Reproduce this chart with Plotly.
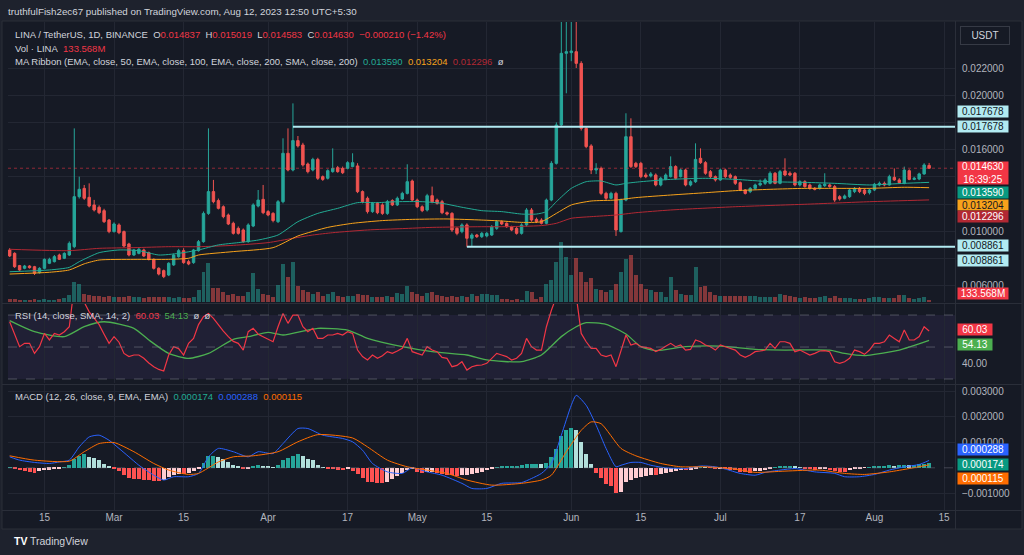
import plotly.graph_objects as go
import pandas as pd

# ---------------- DATA ----------------
START_DATE = "2023-02-08"

opens = [0.00862,0.00837,0.00747,0.00727,0.00744,0.00739,0.00695,0.00727,0.00764,0.00776,
0.00825,0.00801,0.00825,0.00886,0.01254,0.01315,0.01249,0.01193,0.01176,0.01151,
0.01082,0.00997,0.01046,0.00997,0.00906,0.00825,0.00837,0.00862,0.00842,0.00793,
0.00727,0.00710,0.00678,0.00752,0.00813,0.00857,0.00776,0.00769,0.00857,0.00923,
0.01131,0.01291,0.01225,0.01180,0.01119,0.01058,0.01021,0.01009,0.00923,0.01038,
0.01185,0.01234,0.01144,0.01131,0.01070,0.01217,0.01573,0.01450,0.01666,0.01634,
0.01494,0.01450,0.01528,0.01401,0.01389,0.01438,0.01467,0.01462,0.01462,0.01475,
0.01480,0.01291,0.01242,0.01144,0.01205,0.01193,0.01131,0.01225,0.01193,0.01237,
0.01278,0.01369,0.01229,0.01180,0.01156,0.01261,0.01229,0.01217,0.01136,0.01131,
0.01021,0.00997,0.01046,0.00948,0.00972,0.00960,0.00965,0.00972,0.01021,0.01070,
0.01058,0.01033,0.01021,0.00984,0.01046,0.01156,0.01087,0.01082,0.01058,0.01229,
0.01499,0.01781,0.02308,0.02313,0.02320,0.02234,0.01756,0.01627,0.01450,0.01462,
0.01278,0.01242,0.01278,0.00997,0.01229,0.01695,0.01499,0.01499,0.01413,0.01406,
0.01413,0.01340,0.01381,0.01401,0.01475,0.01401,0.01450,0.01340,0.01364,0.01536,
0.01504,0.01438,0.01401,0.01377,0.01450,0.01413,0.01401,0.01357,0.01303,0.01291,
0.01315,0.01340,0.01352,0.01352,0.01426,0.01352,0.01443,0.01426,0.01426,0.01340,
0.01364,0.01340,0.01315,0.01315,0.01335,0.01340,0.01328,0.01254,0.01242,0.01254,
0.01291,0.01315,0.01303,0.01283,0.01303,0.01340,0.01352,0.01340,0.01396,0.01377,
0.01352,0.01445,0.01381,0.01384,0.01421,0.014837]

highs = [0.00875,0.00845,0.00752,0.00752,0.00750,0.00745,0.00735,0.00800,0.00805,0.00825,
0.00835,0.00845,0.00925,0.01756,0.01401,0.01340,0.01352,0.01230,0.01190,0.01165,
0.01090,0.01065,0.01058,0.01005,0.00915,0.00870,0.00880,0.00872,0.00850,0.00800,
0.00735,0.00718,0.00772,0.00835,0.00870,0.00875,0.00790,0.00870,0.00935,0.01145,
0.01756,0.01377,0.01240,0.01190,0.01130,0.01070,0.01035,0.01020,0.01058,0.01205,
0.01303,0.01340,0.01155,0.01140,0.01229,0.01683,0.01756,0.01940,0.01700,0.01650,
0.01505,0.01540,0.01540,0.01410,0.01455,0.01609,0.01480,0.01475,0.01515,0.01573,
0.01500,0.01300,0.01255,0.01215,0.01215,0.01205,0.01230,0.01235,0.01255,0.01290,
0.01492,0.01380,0.01240,0.01190,0.01275,0.01328,0.01240,0.01230,0.01145,0.01140,
0.01030,0.01058,0.01058,0.00985,0.00980,0.00995,0.00995,0.01045,0.01082,0.01080,
0.01065,0.01040,0.01030,0.01058,0.01170,0.01170,0.01100,0.01095,0.01240,0.01515,
0.01800,0.02541,0.02541,0.02541,0.02541,0.02250,0.01770,0.01640,0.01500,0.01475,
0.01290,0.01290,0.01290,0.01240,0.01867,0.01830,0.01510,0.01510,0.01430,0.01435,
0.01425,0.01400,0.01425,0.01550,0.01485,0.01460,0.01460,0.01375,0.01646,0.01609,
0.01515,0.01450,0.01410,0.01460,0.01460,0.01425,0.01410,0.01365,0.01310,0.01325,
0.01350,0.01380,0.01390,0.01440,0.01435,0.01450,0.01536,0.01440,0.01435,0.01375,
0.01375,0.01350,0.01325,0.01350,0.01426,0.01350,0.01340,0.01265,0.01270,0.01315,
0.01325,0.01325,0.01310,0.01315,0.01355,0.01365,0.01365,0.01415,0.01462,0.01390,
0.01475,0.01455,0.01400,0.01430,0.01500,0.015019]

lows = [0.00810,0.00730,0.00708,0.00720,0.00725,0.00678,0.00688,0.00720,0.00758,0.00770,
0.00788,0.00795,0.00818,0.00875,0.01240,0.01230,0.01175,0.01145,0.01125,0.01060,
0.00985,0.00990,0.00978,0.00880,0.00815,0.00818,0.00830,0.00810,0.00785,0.00718,
0.00675,0.00655,0.00670,0.00745,0.00805,0.00760,0.00750,0.00760,0.00850,0.00915,
0.01120,0.01205,0.01160,0.01095,0.01045,0.00975,0.00975,0.00915,0.00915,0.01030,
0.01175,0.01125,0.01110,0.01065,0.01060,0.01205,0.01440,0.01440,0.01615,0.01475,
0.01425,0.01440,0.01377,0.01370,0.01380,0.01430,0.01430,0.01420,0.01455,0.01470,
0.01280,0.01205,0.01130,0.01135,0.01125,0.01120,0.01120,0.01185,0.01185,0.01230,
0.01270,0.01220,0.01170,0.01140,0.01145,0.01205,0.01195,0.01125,0.01115,0.00995,
0.00970,0.00985,0.00886,0.00886,0.00950,0.00950,0.00955,0.00965,0.01010,0.01045,
0.01025,0.01000,0.00975,0.00975,0.01035,0.01070,0.01060,0.01050,0.01050,0.01220,
0.01490,0.01770,0.02014,0.02250,0.02200,0.01740,0.01610,0.01420,0.01420,0.01265,
0.01230,0.01235,0.00965,0.00990,0.01220,0.01465,0.01465,0.01390,0.01390,0.01395,
0.01330,0.01330,0.01375,0.01395,0.01380,0.01395,0.01330,0.01330,0.01355,0.01495,
0.01415,0.01390,0.01365,0.01370,0.01390,0.01385,0.01340,0.01295,0.01270,0.01280,
0.01305,0.01330,0.01340,0.01345,0.01345,0.01345,0.01405,0.01405,0.01330,0.01330,
0.01320,0.01305,0.01300,0.01305,0.01325,0.01320,0.01215,0.01225,0.01235,0.01245,
0.01280,0.01280,0.01265,0.01270,0.01295,0.01330,0.01330,0.01335,0.01370,0.01350,
0.01345,0.01375,0.01375,0.01375,0.01415,0.014583]

closes = [0.00818,0.00739,0.00715,0.00744,0.00732,0.00690,0.00727,0.00793,0.00793,0.00813,
0.00793,0.00837,0.00911,0.01254,0.01308,0.01242,0.01185,0.01156,0.01136,0.01070,
0.00997,0.01053,0.00989,0.00891,0.00825,0.00862,0.00867,0.00818,0.00793,0.00727,
0.00685,0.00666,0.00764,0.00825,0.00857,0.00769,0.00759,0.00862,0.00923,0.01131,
0.01291,0.01217,0.01168,0.01107,0.01053,0.00984,0.00984,0.00923,0.01046,0.01193,
0.01229,0.01136,0.01119,0.01078,0.01217,0.01573,0.01450,0.01666,0.01627,0.01487,
0.01438,0.01528,0.01389,0.01381,0.01445,0.01462,0.01438,0.01430,0.01504,0.01504,
0.01291,0.01217,0.01144,0.01205,0.01136,0.01131,0.01217,0.01193,0.01242,0.01278,
0.01364,0.01229,0.01180,0.01151,0.01261,0.01217,0.01205,0.01136,0.01126,0.01009,
0.00984,0.01046,0.00948,0.00972,0.00960,0.00984,0.00984,0.01033,0.01070,0.01053,
0.01033,0.01009,0.00984,0.01046,0.01156,0.01082,0.01070,0.01058,0.01229,0.01499,
0.01781,0.02308,0.02320,0.02325,0.02234,0.01756,0.01622,0.01450,0.01462,0.01278,
0.01242,0.01278,0.01009,0.01229,0.01695,0.01475,0.01475,0.01401,0.01401,0.01421,
0.01340,0.01389,0.01413,0.01475,0.01389,0.01450,0.01340,0.01364,0.01528,0.01504,
0.01426,0.01401,0.01377,0.01450,0.01401,0.01396,0.01352,0.01303,0.01278,0.01315,
0.01340,0.01352,0.01377,0.01426,0.01352,0.01438,0.01413,0.01413,0.01340,0.01364,
0.01328,0.01315,0.01308,0.01340,0.01345,0.01328,0.01229,0.01237,0.01259,0.01303,
0.01315,0.01291,0.01278,0.01303,0.01345,0.01352,0.01340,0.01401,0.01377,0.01357,
0.01450,0.01381,0.01389,0.01421,0.01487,0.014630]

volumes_m = [180,170,150,140,160,190,150,170,160,150,180,
260,455,1300,1170,520,455,390,390,325,390,
325,325,325,390,325,325,260,325,325,325,325,
325,260,325,260,260,325,
780,1950,2535,910,910,650,455,520,390,390,
650,1885,845,520,455,325,1105,2470,1625,2600,
1040,780,650,520,650,390,520,650,390,325,
390,390,520,455,455,325,325,325,390,325,
585,520,1040,650,520,390,585,650,455,390,
325,390,325,390,325,520,390,
520,520,455,455,195,195,130,195,130,715,650,195,325,
1170,1430,2600,3900,2925,1755,2860,1950,1300,1560,
845,780,650,780,1170,1950,2795,3055,1755,1170,
845,780,650,650,325,1625,780,520,455,455,
2275,975,1040,650,455,
390,390,390,390,390,390,390,390,
325,325,325,325,
520,455,390,
325,260,325,260,260,325,390,260,390,260,260,260,195,195,195,260,325,325,260,260,260,455,455,260,195,260,325,133.568]

# MA Ribbon (sparse vertices)
ema50_idx = [0,8,12,14,18,22,26,30,34,38,42,46,50,54,58,62,66,70,74,78,83,87,91,95,99,103,106,108,110,113,
             116,119,122,124,127,133,140,146,153,160,166,173,180,185]
ema50 = [0.00702,0.00715,0.00734,0.00776,0.00842,0.00862,0.00857,0.00825,0.00837,0.00862,
         0.00899,0.00916,0.00935,0.00972,0.01070,0.01131,0.01168,0.01210,0.01210,0.01217,
         0.01217,0.01205,0.01176,0.01151,0.01144,0.01126,0.01126,0.01144,0.01217,0.01315,
         0.01364,0.01369,0.01340,0.01352,0.01364,0.01381,0.01389,0.01381,0.01364,0.01359,
         0.01352,0.01340,0.01352,0.01359]
ema100_idx = [0,8,12,15,18,25,32,36,38,45,53,58,64,69,75,81,88,95,99,103,107,110,113,117,122,126,133,140,146,153,
              160,166,173,180,185]
ema100 = [0.00685,0.00698,0.00715,0.00760,0.00788,0.00793,0.00793,0.00801,0.00825,0.00850,
          0.00879,0.00965,0.01028,0.01058,0.01078,0.01087,0.01090,0.01082,0.01075,0.01065,
          0.01070,0.01131,0.01193,0.01222,0.01229,0.01247,0.01266,0.01283,0.01298,0.01308,
          0.01315,0.01315,0.01315,0.01323,0.01320]
ema200_idx = [0,12,18,25,32,38,45,52,57,61,65,72,79,85,95,99,107,110,113,117,122,126,133,146,160,173,185]
ema200 = [0.00867,0.00857,0.00874,0.00879,0.00886,0.00886,0.00896,0.00916,0.00948,0.00972,
          0.00989,0.01009,0.01019,0.01028,0.01033,0.01033,0.01041,0.01058,0.01095,0.01107,
          0.01119,0.01136,0.01156,0.01180,0.01198,0.01217,0.01230]

# RSI (daily) and its MA (sparse)
rsi = [65.8,58.5,50.2,52.3,52.3,46.0,50.2,58.5,54.4,58.5,
       57.5,59.6,62.7,88,84,78,72,68,64,58,
       52.3,56.5,53,46,44,45,45,43,40,37.7,
       36,35,45,50.2,49,45,52.3,55.4,64,68.9,
       71,67.9,63.8,60,56.5,53.5,52.3,48.1,59.6,61.7,
       58,56.5,55,53.3,62.7,71,64.8,70,70,62.7,
       59.6,61.7,55.4,55.4,57.5,57.5,58.5,57.5,59.6,58.5,
       48.1,44,41.9,45,42.9,44.5,47.1,46,47.5,49.2,
       55.4,47.1,46,45,50.2,48.1,47.1,43.5,42.9,37.7,
       38.5,40.8,35.6,37.7,38.5,38.75,39.8,43,46,45,
       44,41.9,43,46,55.4,50.2,48.1,48.1,62.7,73,
       82,90,90,89,82,58.5,53.3,49.2,49.2,45,
       44,45,37.7,47,57.5,51.25,52.3,50.2,49.7,49.2,
       47.1,48.5,50.5,52.3,50.2,51.25,48.1,48.5,54.4,53.3,
       51.25,50.2,48.1,51.25,50.2,49,48.1,45,43.5,45,
       47.1,47.5,48.1,52.3,49.2,53.3,53.3,52.3,47.1,48.1,
       46.5,45,46,47.5,47.7,47.1,40.8,39.8,40.8,42.9,
       48.1,47.1,45.4,48.1,52.3,52.3,53.3,57.5,55.4,53.3,
       60.6,54.4,54.4,56.5,62.7,60.03]
rsi_ma_idx = [0,5,11,15,19,25,28,32,36,40,45,48,52,55,60,62,68,72,79,85,92,96,103,107,111,114,116,120,124,127,
              130,136,143,150,156,165,168,172,174,179,185]
rsi_ma = [66.5,59.6,56.5,62.7,65.8,61.7,54.4,46,42.9,46,
          54.8,56.5,59.2,57.5,60.6,61.7,60.6,55.4,50.2,47.1,
          45,41.9,40.8,45,56.5,62.7,65.2,64.2,58.1,50.2,
          47.7,50.2,50.6,48.5,48.1,48.1,46,44.6,45.4,48.1,54.13]

# MACD, in millionths of USDT
macd_idx = [0,2,5,8,10,12,14,16,18,20,22,24,26,29,31,33,36,38,40,42,45,48,50,53,55,58,60,63,67,69,
            71,73,76,79,81,84,87,91,93,96,99,103,105,107,109,111,113,114,116,118,120,122,123,125,127,129,132,136,139,142,
            144,147,150,152,155,158,162,166,168,171,174,177,180,183,185]
macd_u = [430,300,210,170,230,300,820,1210,1280,1080,760,430,100,-290,-480,-350,-350,-220,430,760,
          630,430,630,560,950,1540,1540,1280,1150,1020,690,170,-160,-220,0,-160,-290,-610,-810,-810,
          -610,-580,-420,-220,170,1280,2450,2840,2450,1670,760,40,100,210,210,100,0,-30,70,40,
          -50,-220,-290,-180,-90,-30,-160,-220,-350,-350,-260,-90,40,130,288]
signal_idx = [0,5,12,15,18,21,25,29,32,36,38,42,45,49,54,58,62,69,72,76,80,84,88,92,97,103,107,109,112,115,
              117,119,123,126,131,135,140,146,150,156,163,168,172,177,181,185]
signal_u = [470,300,260,630,950,990,630,170,-90,-260,-220,230,430,470,630,1020,1300,1170,820,300,
            40,-90,-220,-480,-680,-610,-480,-290,630,1470,1800,1730,760,470,170,40,40,-50,-180,-130,
            -90,-220,-260,-160,-30,115]
hist_u = [20,-65,-104,-130,-170,-196,-143,-104,-78,-52,-26,
          5,91,326,456,522,443,378,287,157,52,
          -65,-143,-300,-404,-430,-456,-469,-496,-522,-535,
          -496,-365,-274,-235,-240,-209,-143,-39,196,456,
          482,417,352,222,117,39,-39,-13,65,91,
          65,52,26,91,287,378,456,548,456,352,
          287,117,26,-39,-65,-70,-104,-65,-143,-235,
          -404,-561,-565,-587,-590,-561,-456,-326,-196,-104,
          -39,-180,-200,-170,-160,-196,-235,-274,-300,-320,
          -300,-274,-235,-209,-170,-104,-39,26,52,52,52,52,
          104,143,143,143,130,170,430,756,1252,1474,
          1565,1474,1017,522,130,-222,-417,-652,-717,-1004,
          -965,-548,-482,-417,-352,-313,-287,-300,-261,-222,
          -183,-130,-91,-104,-78,-26,26,10,-5,-39,
          -35,-52,-78,-104,-156,-183,-190,-130,-117,-104,
          -26,13,39,65,70,39,13,-26,-65,-78,
          -65,-52,-91,-130,-156,-160,-104,-65,-26,-5,
          26,39,52,65,91,78,91,117,104,117,130,143,174]

# horizontal levels drawn by the author
level_prices = [0.017678, 0.008861]
level_starts = ["2023-04-06", "2023-05-11"]
last_price = 0.014630

# axis ticks (labels hidden behind the price tags are left blank)
x_tick_dates = ["2023-02-15","2023-03-01","2023-03-15","2023-04-01","2023-04-17","2023-05-01","2023-05-15",
                "2023-06-01","2023-06-15","2023-07-01","2023-07-17","2023-08-01","2023-08-15"]
x_tick_text = ["15","Mar","15","Apr","17","May","15","Jun","15","Jul","17","Aug","15"]
price_ticks = [0.006,0.008,0.010,0.012,0.014,0.016,0.018,0.020,0.022]
price_tick_text = ["0.006000","","0.010000","","","0.016000","","0.020000","0.022000"]
rsi_ticks = [40]
rsi_tick_text = ["40.00"]
macd_ticks = [-0.001,0.001,0.002,0.003]
macd_tick_text = ["\u22120.001000","0.001000","0.002000","0.003000"]

# ---------------- FIGURE ----------------
dates = pd.date_range(START_DATE, periods=len(closes), freq="D")
def at(idx):
    return [dates[i] for i in idx]

W, H = 1024, 555
ML, MR, MT, MB = 8, 69, 22, 45
PW, PH = W - ML - MR, H - MT - MB
def px(x):
    return (x - ML) / PW
def py(y):
    return (H - MB - y) / PH

BG = "#161a25"
OUTER = "#1e222d"
GRID = "#232733"
SEP = "#2a2e39"
TXT = "#b2b5be"
LEG = "#d1d4dc"
UP, DN = "#26a69a", "#ef5350"
FONT = "Liberation Sans, Arial, sans-serif"

fig = go.Figure()

vol_colors = ["rgba(38,166,154,0.5)" if c >= o else "rgba(239,83,80,0.5)" for o, c in zip(opens, closes)]
fig.add_trace(go.Bar(x=dates, y=volumes_m, marker=dict(color=vol_colors, line=dict(width=0)),
                     width=86400000 * 0.8, xaxis="x", yaxis="y", hoverinfo="skip"))

fig.add_trace(go.Candlestick(x=dates, open=opens, high=highs, low=lows, close=closes,
                             xaxis="x", yaxis="y2", hoverinfo="skip",
                             increasing=dict(line=dict(color=UP, width=1), fillcolor=UP),
                             decreasing=dict(line=dict(color=DN, width=1), fillcolor=DN)))
for idx, vals, col in [(ema200_idx, ema200, "#b22833"), (ema100_idx, ema100, "#f7a21b"), (ema50_idx, ema50, "#22ab94")]:
    fig.add_trace(go.Scatter(x=at(idx), y=vals, mode="lines", line=dict(color=col, width=1, shape="spline", smoothing=0.6),
                             xaxis="x", yaxis="y2", hoverinfo="skip"))

fig.add_trace(go.Scatter(x=at(rsi_ma_idx), y=rsi_ma, mode="lines", line=dict(color="#4caf50", width=1.3, shape="spline", smoothing=0.6),
                         xaxis="x", yaxis="y3", hoverinfo="skip"))
fig.add_trace(go.Scatter(x=dates, y=rsi, mode="lines", line=dict(color="#f23645", width=1.2),
                         xaxis="x", yaxis="y3", hoverinfo="skip"))

hist = [v * 1e-6 for v in hist_u]
hcols = []
prev = 0.0
for h in hist:
    if h >= 0:
        hcols.append("#26a69a" if h >= prev else "#b2dfdb")
    else:
        hcols.append("#ff5252" if h < prev else "#ffcdd2")
    prev = h
fig.add_trace(go.Bar(x=dates, y=hist, marker=dict(color=hcols, line=dict(width=0)), width=86400000 * 0.8,
                     xaxis="x", yaxis="y4", hoverinfo="skip"))
fig.add_trace(go.Scatter(x=at(macd_idx), y=[v * 1e-6 for v in macd_u], mode="lines",
                         line=dict(color="#2962ff", width=1, shape="spline", smoothing=0.6), xaxis="x", yaxis="y4", hoverinfo="skip"))
fig.add_trace(go.Scatter(x=at(signal_idx), y=[v * 1e-6 for v in signal_u], mode="lines",
                         line=dict(color="#ff6d00", width=1, shape="spline", smoothing=0.6), xaxis="x", yaxis="y4", hoverinfo="skip"))

x0, x1 = "2023-02-07 16:00", "2023-08-17 05:00"

shapes = []
shapes.append(dict(type="rect", xref="paper", yref="paper", x0=px(2), x1=px(1022), y0=py(21), y1=py(529),
                   fillcolor=BG, line=dict(color=SEP, width=1), layer="below"))
shapes.append(dict(type="rect", xref="paper", yref="y3", x0=0, x1=1, y0=30, y1=70,
                   fillcolor="rgba(126,87,194,0.10)", line=dict(width=0), layer="below"))
for lv in [70, 50, 30]:
    shapes.append(dict(type="line", xref="paper", yref="y3", x0=0, x1=1, y0=lv, y1=lv,
                       line=dict(color="rgba(120,123,134,0.55)", width=1, dash="dash")))
shapes.append(dict(type="line", xref="paper", yref="y4", x0=0, x1=1, y0=0, y1=0,
                   line=dict(color="rgba(120,123,134,0.45)", width=1, dash="dash")))
shapes.append(dict(type="line", xref="paper", yref="y2", x0=0, x1=1, y0=last_price, y1=last_price,
                   line=dict(color="rgba(242,54,69,0.55)", width=1, dash="dot")))
for p, s in zip(level_prices, level_starts):
    shapes.append(dict(type="line", xref="x", yref="y2", x0=s, x1=x1, y0=p, y1=p,
                       line=dict(color="#b2ebf2", width=2)))
for yy in [303.5, 384.5, 510.5]:
    shapes.append(dict(type="line", xref="paper", yref="paper", x0=px(2), x1=px(1022), y0=py(yy), y1=py(yy),
                       line=dict(color=SEP, width=1)))
shapes.append(dict(type="line", xref="paper", yref="paper", x0=px(955.5), x1=px(955.5), y0=py(21), y1=py(529),
                   line=dict(color=SEP, width=1)))

ann = []
def text(x, y, t, size=9.5, color=LEG):
    ann.append(dict(xref="paper", yref="paper", x=px(x), y=py(y), xanchor="left", yanchor="middle",
                    text=t, showarrow=False, font=dict(size=size, color=color, family=FONT)))
def sp(t, c):
    return "<span style='color:%s'>%s</span>" % (c, t)
R = "#f23645"
text(6, 11, "truthfulFish2ec67 published on TradingView.com, Aug 12, 2023 12:50 UTC+5:30", 9.8, "#d1d4dc")
text(13, 34, "LINA / TetherUS, 1D, BINANCE\u00a0\u00a0O" + sp("0.014837", R) + "\u00a0\u00a0H" + sp("0.015019", R)
     + "\u00a0\u00a0L" + sp("0.014583", R) + "\u00a0\u00a0C" + sp("0.014630", R) + "\u00a0\u00a0" + sp("\u22120.000210 (\u22121.42%)", R))
text(13, 48, "Vol \u00b7 LINA\u00a0\u00a0" + sp("133.568M", R))
text(13, 62, "MA Ribbon (EMA, close, 50, EMA, close, 100, EMA, close, 200, SMA, close, 200)\u00a0\u00a0"
     + sp("0.013590", "#22ab94") + "\u00a0\u00a0" + sp("0.013204", "#f7a21b") + "\u00a0\u00a0" + sp("0.012296", "#b22833")
     + "\u00a0\u00a0\u00f8")
text(13, 315, "RSI (14, close, SMA, 14, 2)\u00a0\u00a0" + sp("60.03", R) + "\u00a0\u00a0" + sp("54.13", "#4caf50") + "\u00a0\u00a0\u00f8\u00a0\u00a0\u00f8")
text(13, 396, "MACD (12, 26, close, 9, EMA, EMA)\u00a0\u00a0" + sp("0.000174", "#22ab94") + "\u00a0\u00a0"
     + sp("0.000288", "#2962ff") + "\u00a0\u00a0" + sp("0.000115", "#ff6d00"))
text(12, 541, "<b>TV</b>", 10.5, "#ffffff")
text(28, 541, "TradingView", 10.5, "#d1d4dc")

def label(t, yc, bg, fg, h=11, w=50, x=957):
    ann.append(dict(xref="paper", yref="paper", x=px(x), y=py(yc), xanchor="left", yanchor="middle",
                    text=t, showarrow=False, bgcolor=bg, font=dict(size=10, color=fg, family=FONT),
                    width=w, height=h, borderpad=0, align="center"))
label("0.017678", 111.7, "#b2ebf2", "#131722")
label("0.017678", 126.7, "#b2ebf2", "#131722")
label("0.014630<br>16:39:25", 173.3, "#f23645", "#ffffff", h=22)
label("0.013590", 192.5, "#089981", "#ffffff")
label("0.013204", 205, "#f7a21b", "#131722", h=10)
label("0.012296", 216, "#b22833", "#ffffff")
label("0.008861", 245.5, "#b2ebf2", "#131722")
label("0.008861", 260, "#b2ebf2", "#131722")
label("133.568M", 293.5, "#f23645", "#ffffff")
label("60.03", 330, "#f23645", "#ffffff", w=34)
label("54.13", 344.5, "#4caf50", "#ffffff", w=34)
label("0.000288", 449.5, "#2962ff", "#ffffff")
label("0.000174", 464, "#089981", "#ffffff")
label("0.000115", 478, "#ff6d00", "#ffffff")
ann.append(dict(xref="paper", yref="paper", x=px(960), y=py(35.5), xanchor="left", yanchor="middle",
                text="USDT", showarrow=False, bgcolor=BG, bordercolor="#363a45", borderwidth=1,
                font=dict(size=10, color="#d1d4dc", family=FONT), width=46, height=15, borderpad=1))

axfont = dict(size=10, color=TXT, family=FONT)
fig.update_layout(
    width=W, height=H, margin=dict(l=ML, r=MR, t=MT, b=MB),
    paper_bgcolor=OUTER, plot_bgcolor="rgba(0,0,0,0)",
    showlegend=False, hovermode=False, bargap=0,
    font=dict(family=FONT, color=TXT),
    shapes=shapes, annotations=ann,
    xaxis=dict(type="date", range=[x0, x1], anchor="y4", domain=[0, 1],
               tickvals=x_tick_dates, ticktext=x_tick_text, tickfont=axfont, ticks="",
               showgrid=True, gridcolor=GRID, gridwidth=1, zeroline=False, showline=False,
               rangeslider=dict(visible=False)),
    yaxis=dict(domain=[py(302), 1], range=[0, 18200], visible=False, showgrid=False, zeroline=False),
    yaxis2=dict(overlaying="y", anchor="x", side="right", range=[0.004794, 0.025382],
                tickvals=price_ticks, ticktext=price_tick_text, tickfont=axfont, ticks="", ticklabelstandoff=6,
                showgrid=True, gridcolor=GRID, zeroline=False, showline=False),
    yaxis3=dict(domain=[py(383), py(304)], anchor="x", side="right", range=[27.5, 76.9],
                tickvals=rsi_ticks, ticktext=rsi_tick_text, tickfont=axfont, ticks="", ticklabelstandoff=6,
                showgrid=False, zeroline=False, showline=False),
    yaxis4=dict(domain=[0, py(385)], anchor="x", side="right", range=[-0.001655, 0.003247],
                tickvals=macd_ticks, ticktext=macd_tick_text, tickfont=axfont, ticks="", ticklabelstandoff=6,
                showgrid=True, gridcolor=GRID, zeroline=False, showline=False),
)

fig.write_html("out.html")
